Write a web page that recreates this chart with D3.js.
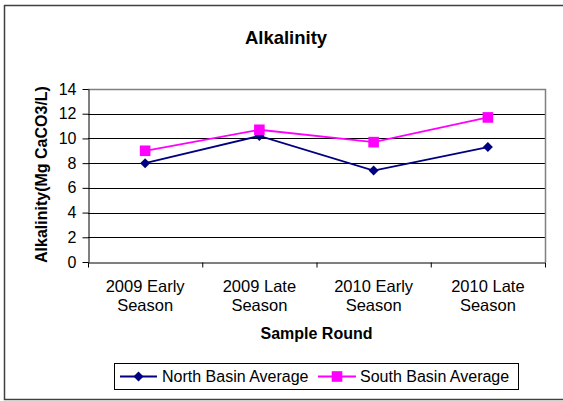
<!DOCTYPE html>
<html><head><meta charset="utf-8">
<script src="https://cdn.jsdelivr.net/npm/d3@7"></script>
<style>body{margin:0;background:#fff;} svg{display:block;font-family:"Liberation Sans",Arial,sans-serif;}</style>
</head><body>
<svg id="c" width="563" height="401"></svg>
<script>
const categories = [["2009 Early","Season"],["2009 Late","Season"],["2010 Early","Season"],["2010 Late","Season"]];
const northBasin = [8.0, 10.2, 7.4, 9.3];
const southBasin = [9.0, 10.7, 9.7, 11.7];
const yTicks = [0,2,4,6,8,10,12,14];
const seriesNames = ["North Basin Average","South Basin Average"];

const svg = d3.select("#c");
const m = {l:88, r:545, t:89, b:262};

svg.append("rect").attr("x",4.5).attr("y",5.5).attr("width",600).attr("height",394)
  .attr("fill","#fff").attr("stroke","#404040").attr("stroke-width",1.5);

const x = d3.scaleBand().domain(d3.range(categories.length)).range([m.l,m.r]).padding(0);
const y = d3.scaleLinear().domain([0,14]).range([m.b,m.t]);

svg.append("g").selectAll("line").data(yTicks.filter(d=>d>0 && d<14)).join("line")
  .attr("x1",m.l).attr("x2",m.r).attr("y1",d=>Math.round(y(d))+0.5).attr("y2",d=>Math.round(y(d))+0.5)
  .attr("stroke","#000").attr("stroke-width",1);
svg.append("path").attr("d",`M${m.l},${m.t+0.5}H${m.r+0.5}V${m.b}`).attr("fill","none").attr("stroke","#808080").attr("stroke-width",1.5);

const yAxis = d3.axisLeft(y).tickValues(yTicks).tickSize(6).tickSizeOuter(0);
const gy = svg.append("g").attr("transform",`translate(${m.l+0.5},0)`).call(yAxis);
gy.select(".domain").attr("stroke","#000");
gy.selectAll(".tick line").attr("stroke","#000");
gy.selectAll(".tick text").attr("font-size",16).attr("fill","#000").attr("x",-12).attr("font-family","Liberation Sans, Arial, sans-serif");

const bx = d3.scaleLinear().domain([0,categories.length]).range([m.l,m.r]);
const xAxis = d3.axisBottom(bx).tickValues(d3.range(categories.length+1)).tickSize(5).tickSizeOuter(0).tickFormat("");
const gx = svg.append("g").attr("transform",`translate(0,${m.b+0.5})`).call(xAxis);
gx.select(".domain").attr("stroke","#000");
gx.selectAll(".tick line").attr("stroke","#000");

const xl = svg.append("g").selectAll("text").data(categories).join("text")
  .attr("x",(d,i)=>x(i)+x.bandwidth()/2).attr("y",292).attr("text-anchor","middle")
  .attr("font-size",16.5).attr("fill","#000");
xl.each(function(d){
  const t=d3.select(this);
  d.forEach((s,j)=>t.append("tspan").attr("x",t.attr("x")).attr("dy",j===0?0:19.3).text(s));
});

svg.append("text").attr("x",286).attr("y",44).attr("text-anchor","middle").attr("font-weight","bold").attr("font-size",18.5).text("Alkalinity");
svg.append("text").attr("x",(m.l+m.r)/2).attr("y",339).attr("text-anchor","middle").attr("font-weight","bold").attr("font-size",16).text("Sample Round");
svg.append("text").attr("transform",`translate(47,${(m.t+m.b)/2-1}) rotate(-90)`).attr("text-anchor","middle").attr("font-weight","bold").attr("font-size",16).text("Alkalinity(Mg CaCO3/L)");

const cx = i => x(i)+x.bandwidth()/2;
const line = d3.line().x((d,i)=>cx(i)).y(d=>y(d));
const navy="#000080", mag="#FF00FF";
svg.append("path").datum(northBasin).attr("d",line).attr("fill","none").attr("stroke",navy).attr("stroke-width",1.8);
svg.append("path").datum(southBasin).attr("d",line).attr("fill","none").attr("stroke",mag).attr("stroke-width",1.8);

const diamond = (s)=>`M0,${-s}L${s},0L0,${s}L${-s},0Z`;
svg.append("g").selectAll("path").data(northBasin).join("path")
  .attr("transform",(d,i)=>`translate(${cx(i)},${y(d)})`).attr("d",diamond(5)).attr("fill",navy);
svg.append("g").selectAll("rect").data(southBasin).join("rect")
  .attr("x",(d,i)=>cx(i)-5.3).attr("y",d=>y(d)-5.3).attr("width",10.6).attr("height",10.6).attr("fill",mag);

const lg = svg.append("g");
lg.append("rect").attr("x",114.5).attr("y",363.5).attr("width",404).attr("height",26).attr("fill","#fff").attr("stroke","#000").attr("stroke-width",1);
const ly = 376.5;
lg.append("line").attr("x1",120).attr("x2",157).attr("y1",ly).attr("y2",ly).attr("stroke",navy).attr("stroke-width",1.8);
lg.append("path").attr("transform",`translate(138.5,${ly})`).attr("d",diamond(5)).attr("fill",navy);
lg.append("text").attr("x",162).attr("y",ly+5.5).attr("font-size",16).text(seriesNames[0]);
lg.append("line").attr("x1",318).attr("x2",356).attr("y1",ly).attr("y2",ly).attr("stroke",mag).attr("stroke-width",1.8);
lg.append("rect").attr("x",337-5.3).attr("y",ly-5.3).attr("width",10.6).attr("height",10.6).attr("fill",mag);
lg.append("text").attr("x",360).attr("y",ly+5.5).attr("font-size",16).text(seriesNames[1]);
</script>
</body></html>
